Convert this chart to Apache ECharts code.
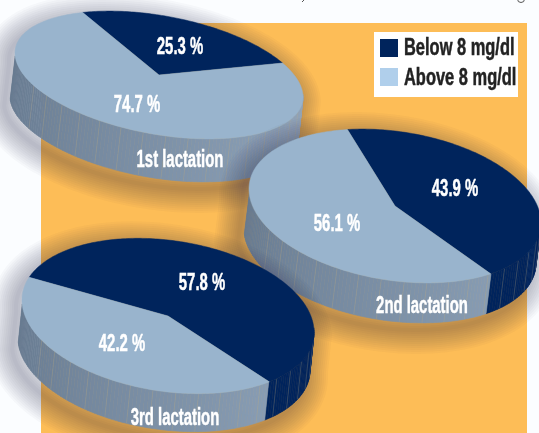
<!DOCTYPE html>
<html>
<head>
<meta charset="utf-8">
<style>html,body{margin:0;padding:0;background:#FBFDFF}#c{width:539px;height:433px}</style>
<script src="https://cdn.jsdelivr.net/npm/echarts@6/dist/echarts.min.js"></script>
</head>
<body>
<div id="c"></div>
<script>
const categories = ['1st lactation', '2nd lactation', '3rd lactation'];
const belowValues = [25.3, 43.9, 57.8];
const aboveValues = [74.7, 56.1, 42.2];
const seriesNames = ['Below 8 mg/dl', 'Above 8 mg/dl'];

// Drawing layout of each pseudo-3D disc (not data)
const discs = [
  { cx: 159, cy: 75,  rx: 144, ry: 60, shear: 22, dx: -5, dy: 43, start: 122,
    labels: [[180, 47], [137, 105]], name: [180, 160] },
  { cx: 395, cy: 206, rx: 146, ry: 75, shear: 17, dx: -5, dy: 40, start: 109,
    labels: [[455, 189], [337, 224]], name: [422, 306] },
  { cx: 168, cy: 316, rx: 146, ry: 76, shear: 16, dx: -4, dy: 38, start: 162,
    labels: [[202, 283], [122, 344]], name: [175, 418] }
];
const NAVY = '#00245C', LIGHT = '#99B4CD', LEGEND_LIGHT = '#B0CFEB';
const SIDE_A = [102, 121, 143], SIDE_B = [142, 163, 186];
const FONT = '"Liberation Sans",Arial,sans-serif';
const rad = d => d * Math.PI / 180;

function pt(d, deg, depth) {
  const c = Math.cos(rad(deg)), s = Math.sin(rad(deg));
  const x = d.cx + d.rx * c, y = d.cy + d.shear * c - d.ry * s;
  return depth ? [x + d.dx, y + d.dy] : [x, y];
}
function sideArc(d) {
  const a = Math.atan2(d.ry * d.dx, -d.rx * d.dy + d.shear * d.dx) * 180 / Math.PI;
  let t0 = a;
  while (t0 < 90) t0 += 180;
  while (t0 > 270) t0 -= 180;
  return [t0, t0 + 180];
}
function norm(a) { return ((a % 360) + 360) % 360; }
function lerpColor(f) {
  const g = Math.min(1, f / 0.85);
  const c = SIDE_A.map((v, i) => Math.round(v + (SIDE_B[i] - v) * g));
  return 'rgb(' + c.join(',') + ')';
}
function label(text, x, y, z2) {
  return { type: 'text', x, y, scaleX: 0.62, z2, silent: true,
    style: { text, fill: '#fff', stroke: '#fff', lineWidth: 0.5, font: 'bold 24px ' + FONT, align: 'center', verticalAlign: 'middle' } };
}

function makeRender(seriesIdx) {
  return function (params, api) {
    const i = params.dataIndex;
    const d = discs[i];
    const value = api.value(1);
    const base = i * 10 + 10;
    const below = belowValues[i] * 3.6;
    const from = seriesIdx === 0 ? d.start : d.start - below;
    const to = from - value * 3.6;
    const color = seriesIdx === 0 ? NAVY : LIGHT;
    const children = [];
    const arc = sideArc(d);

    // soft drop shadow: stacked translucent strokes round the disc silhouette
    if (seriesIdx === 0) {
      const hull = [];
      for (let t = arc[0]; t <= arc[1]; t += 3) { const p = pt(d, t, true); hull.push([p[0] - 6, p[1] + 7]); }
      for (let t = arc[1]; t <= arc[0] + 360; t += 3) { const p = pt(d, t, false); hull.push([p[0] - 6, p[1] + 7]); }
      for (let w = 48; w >= 4; w -= 4) {
        children.push({ type: 'polygon', z2: base, silent: true, shape: { points: hull },
          style: { fill: 'none', stroke: 'rgba(50,50,60,0.026)', lineWidth: w, lineJoin: 'round' } });
      }
    }

    // wall facets of this slice
    const span = arc[1] - arc[0];
    const lo = norm(to), sw = from - to;
    for (let t = arc[0]; t < arc[1]; t += 1.5) {
      const mid = t + 0.75;
      if (norm(mid - lo) > sw) continue;
      const f = (t - arc[0]) / span;
      const fill = seriesIdx === 0 ? NAVY : lerpColor(f);
      const t2 = Math.min(t + 1.5, arc[1]);
      children.push({ type: 'polygon', z2: base + 1, silent: true,
        shape: { points: [pt(d, t, false), pt(d, t2, false), pt(d, t2, true), pt(d, t, true)] },
        style: { fill, stroke: fill, lineWidth: 0.6 } });
      const k = Math.round((t - arc[0]) / 1.5);
      if (k % 6 === 0 && f > 0.14) {
        const a = pt(d, t, false), b = pt(d, t, true);
        children.push({ type: 'line', z2: base + 2, silent: true,
          shape: { x1: a[0], y1: a[1], x2: b[0], y2: b[1] },
          style: { stroke: 'rgba(190,170,130,0.3)', lineWidth: 0.8 } });
      }
    }

    // top face sector
    const pts = [[d.cx, d.cy]];
    for (let t = from; t >= to; t -= 1) pts.push(pt(d, t, false));
    pts.push(pt(d, to, false));
    children.push({ type: 'polygon', z2: base + 3, silent: true, shape: { points: pts },
      style: { fill: color, stroke: color, lineWidth: 0.5 } });

    const lp = d.labels[seriesIdx];
    children.push(label(value.toFixed(1) + ' %', lp[0], lp[1], base + 5));
    if (seriesIdx === 1) children.push(label(categories[i], d.name[0], d.name[1], base + 5));
    return { type: 'group', children };
  };
}

function legendText(text, y) {
  return { type: 'text', x: 404, y, scaleX: 0.685, z: 100, silent: true,
    style: { text, fill: '#222', stroke: '#222', lineWidth: 0.5, font: 'bold 24px ' + FONT, align: 'left', verticalAlign: 'middle' } };
}

const chart = echarts.init(document.getElementById('c'), null, { renderer: 'canvas' });
chart.setOption({
  animation: false,
  backgroundColor: '#FBFDFF',
  graphic: [
    { type: 'rect', z: -10, silent: true, shape: { x: 41, y: 23, width: 486, height: 410 }, style: { fill: '#FDBD57' } },
    { type: 'rect', z: 100, silent: true, shape: { x: 374, y: 32, width: 144, height: 65 }, style: { fill: '#fff' } },
    { type: 'rect', z: 100, silent: true, shape: { x: 380, y: 39, width: 18, height: 18 }, style: { fill: NAVY } },
    { type: 'rect', z: 100, silent: true, shape: { x: 380, y: 68, width: 18, height: 18 }, style: { fill: LEGEND_LIGHT } },
    legendText(seriesNames[0], 48),
    legendText(seriesNames[1], 78),
    { type: 'line', z: 100, silent: true, shape: { x1: 302, y1: 2, x2: 304, y2: 0 }, style: { stroke: '#555', lineWidth: 1 } },
    { type: 'circle', z: 100, silent: true, shape: { cx: 521, cy: -1, r: 3.5 }, style: { fill: 'none', stroke: '#555', lineWidth: 1 } }
  ],
  series: [
    { type: 'custom', name: seriesNames[0], coordinateSystem: 'none', itemStyle: { color: NAVY }, clip: false,
      renderItem: makeRender(0), data: categories.map((c, i) => [i, belowValues[i]]) },
    { type: 'custom', name: seriesNames[1], coordinateSystem: 'none', itemStyle: { color: LEGEND_LIGHT }, clip: false,
      renderItem: makeRender(1), data: categories.map((c, i) => [i, aboveValues[i]]) }
  ]
});
</script>
</body>
</html>
